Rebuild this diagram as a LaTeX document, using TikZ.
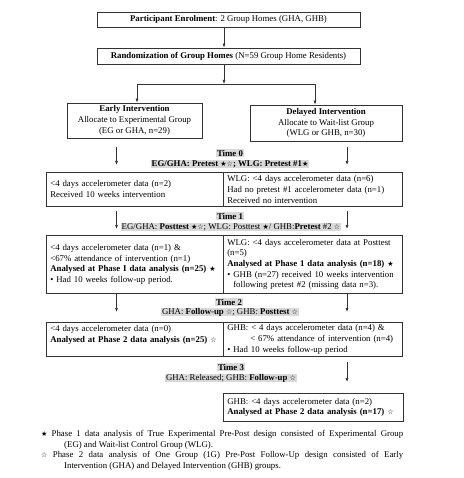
\documentclass[tikz,border=0pt]{standalone}
\usepackage{fontspec}
\setmainfont{Liberation Serif}
\newfontfamily\dejavu{DejaVu Sans}
\usetikzlibrary{arrows.meta,positioning}
\newcommand{\starB}{{\dejavu\fontsize{7}{7}\selectfont ★}}
\newcommand{\starW}{{\dejavu\fontsize{7}{7}\selectfont ☆}}

\begin{document}
\begin{tikzpicture}[
  x=1pt,y=-1pt,
  every node/.style={font=\fontsize{8.8}{10.7}\selectfont},
  box/.style={draw=black!80,line width=0.6pt,inner sep=0pt,align=center},
  cell/.style={draw=black!80,line width=0.6pt,anchor=north west,align=left,inner xsep=4pt,inner ysep=0pt},
  tag/.style={fill=gray!30,inner xsep=1pt,inner ysep=0.5pt},
  note/.style={anchor=north west,text width=362pt,align=justify,inner sep=0pt},
  arr/.style={-{Latex[length=4pt,width=3pt]},line width=0.6pt,black!80}
]
\useasboundingbox (0,0) rectangle (463,478);
% enrolment and randomization
\node[box,minimum width=263pt,minimum height=15pt] (enrol) at (228.5,19.5) {\textbf{Participant Enrolment}: 2 Group Homes (GHA, GHB)};
\node[box,minimum width=263pt,minimum height=16pt] (rand) at (228.5,56) {\textbf{Randomization of Group Homes} (N=59 Group Home Residents)};
\coordinate (split) at (224,84);
\node[box,minimum width=135pt,minimum height=35pt] (early) at (134.5,120.5) {\textbf{Early Intervention}\\Allocate to Experimental Group\\(EG or GHA, n=29)};
\node[box,minimum width=152pt,minimum height=36pt] (delay) at (326,123) {\textbf{Delayed Intervention}\\Allocate to Wait-list Group\\(WLG or GHB, n=30)};
\draw[arr] ([xshift=-4.5pt]enrol.south) -- ([xshift=-4.5pt]rand.north);
\draw[arr] ([xshift=-4.5pt]rand.south) -- (split);
\draw[arr] (split) -| ([xshift=2.5pt]early.north);
\draw[arr] (split) -| ([xshift=-11pt]delay.north);

% time 0
\node[tag] (t0) at (230,153) {\textbf{Time 0}};
\node[tag] (p0) at (230,164) {\textbf{EG/GHA: Pretest \starB\starW; WLG: Pretest \#1\starB}};
\coordinate (a0l) at (116.5,147); \coordinate (b0l) at (116.5,165);
\coordinate (a0r) at (347,147); \coordinate (b0r) at (347,165);
\draw[arr] (a0l) -- (b0l);
\draw[arr] (a0r) -- (b0r);
\node[cell,text width=169pt,minimum height=34pt] (c0l) at (46,172) {<4 days accelerometer data (n=2)\\Received 10 weeks intervention};
\node[cell,text width=171pt,minimum height=34pt] (c0r) at (223,172) {WLG: <4 days accelerometer data (n=6)\\Had no pretest \#1 accelerometer data (n=1)\\Received no intervention};

% time 1
\node[tag] (t1) at (230,216) {\textbf{Time 1}};
\node[tag] (p1) at (231,227) {EG/GHA: \textbf{Posttest} \starB\starW; WLG: Posttest \starB/ GHB:\textbf{Pretest} \#2 \starW};
\coordinate (a1l) at (116.5,211); \coordinate (b1l) at (116.5,229);
\coordinate (a1r) at (347,211); \coordinate (b1r) at (347,229);
\draw[arr] (a1l) -- (b1l);
\draw[arr] (a1r) -- (b1r);
\node[cell,text width=169pt,minimum height=58pt] (c1l) at (46,235) {<4 days accelerometer data (n=1) \&\\ <67\% attendance of intervention (n=1)\\\textbf{Analysed at Phase I data analysis (n=25)} \starB\\• Had 10 weeks follow-up period.};
\node[cell,text width=171pt,minimum height=58pt] (c1r) at (223,235) {WLG: <4 days accelerometer data at Posttest\\(n=5)\\\textbf{Analysed at Phase 1 data analysis (n=18)} \starB\\• GHB (n=27) received 10 weeks intervention\\\hspace*{6pt}following pretest \#2 (missing data n=3).};

% time 2
\node[tag] (t2) at (229,302) {\textbf{Time 2}};
\node[tag] (p2) at (230,312) {GHA: \textbf{Follow-up} \starW; GHB: \textbf{Posttest} \starW};
\coordinate (a2l) at (116.5,294); \coordinate (b2l) at (116.5,312);
\coordinate (a2r) at (347,294); \coordinate (b2r) at (347,312);
\draw[arr] (a2l) -- (b2l);
\draw[arr] (a2r) -- (b2r);
\node[cell,text width=169pt,minimum height=34pt] (c2l) at (46,322) {<4 days accelerometer data (n=0)\\\textbf{Analysed at Phase 2 data analysis (n=25)} \starW\\\mbox{}};
\node[cell,text width=171pt,minimum height=34pt] (c2r) at (223,322) {GHB: < 4 days accelerometer data (n=4) \&\\\hspace*{23pt}< 67\% attendance of intervention (n=4)\\• Had 10 weeks follow-up period};

% time 3
\node[tag] (t3) at (231,367) {\textbf{Time 3}};
\node[tag] (p3) at (231,378) {GHA: Released; GHB: \textbf{Follow-up} \starW};
\coordinate (a3r) at (347,362); \coordinate (b3r) at (347,382);
\draw[arr] (a3r) -- (b3r);
\node[cell,text width=172pt,minimum height=28pt] (c3r) at (223,393) {GHB: <4 days accelerometer data (n=2)\\\textbf{Analysed at Phase 2 data analysis (n=17)} \starW};

% notes
\node[note] (note1) at (41,430) {\hangindent=23pt\hangafter=1 \starB\ Phase 1 data analysis of True Experimental Pre-Post design consisted of Experimental Group\linebreak (EG) and Wait-list Control Group (WLG).\par};
\node[note] (note2) at (41,451) {\hangindent=23pt\hangafter=1 \starW\ Phase 2 data analysis of One Group (1G) Pre-Post Follow-Up design consisted of Early\linebreak Intervention (GHA) and Delayed Intervention (GHB) groups.\par};
\end{tikzpicture}
\end{document}
